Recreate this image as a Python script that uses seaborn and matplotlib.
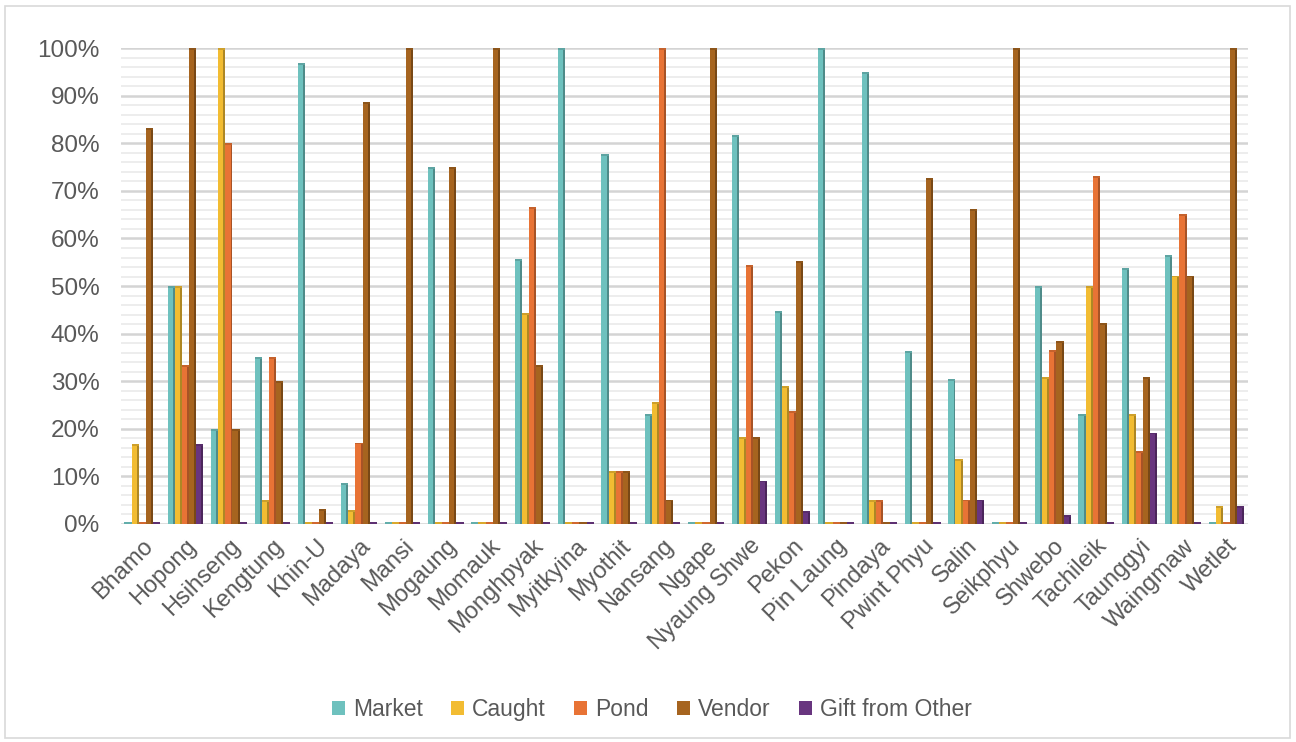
import numpy as np
import pandas as pd
import seaborn as sns
import matplotlib.pyplot as plt
from matplotlib.patches import Rectangle
from matplotlib.colors import to_rgb
from matplotlib.ticker import FixedLocator, PercentFormatter

# Source of fish by township (share of households, %)
locations = ["Bhamo", "Hopong", "Hsihseng", "Kengtung", "Khin-U", "Madaya", "Mansi",
             "Mogaung", "Momauk", "Monghpyak", "Myitkyina", "Myothit", "Nansang",
             "Ngape", "Nyaung Shwe", "Pekon", "Pin Laung", "Pindaya", "Pwint Phyu",
             "Salin", "Seikphyu", "Shwebo", "Tachileik", "Taunggyi", "Waingmaw", "Wetlet"]
market = [0, 50, 20, 35, 96.9, 8.6, 0, 75, 0, 55.6, 100, 77.8, 23.1, 0, 81.8, 44.7,
          100, 95, 36.4, 30.5, 0, 50, 23.1, 53.8, 56.5, 0]
caught = [16.7, 50, 100, 5, 0, 2.9, 0, 0, 0, 44.4, 0, 11.1, 25.6, 0, 18.2, 28.9,
          0, 5, 0, 13.6, 0, 30.8, 50, 23.1, 52.2, 3.8]
pond = [0, 33.3, 80, 35, 0, 17.1, 0, 0, 0, 66.7, 0, 11.1, 100, 0, 54.5, 23.7,
        0, 5, 0, 5.1, 0, 36.5, 73.1, 15.4, 65.2, 0]
vendor = [83.3, 100, 20, 30, 3.1, 88.6, 100, 75, 100, 33.3, 0, 11.1, 5.1, 100, 18.2, 55.3,
          0, 0, 72.7, 66.1, 100, 38.5, 42.3, 30.8, 52.2, 100]
gift = [0, 16.7, 0, 0, 0, 0, 0, 0, 0, 0, 0, 0, 0, 0, 9.1, 2.6,
        0, 0, 0, 5.1, 0, 1.9, 0, 19.2, 0, 3.8]

sources = ["Market", "Caught", "Pond", "Vendor", "Gift from Other"]
colors = ["#6EC1BE", "#F2BC32", "#E87335", "#A6641F", "#68357F"]

wide = pd.DataFrame({"Location": locations, "Market": market, "Caught": caught,
                     "Pond": pond, "Vendor": vendor, "Gift from Other": gift})
long = wide.melt(id_vars="Location", var_name="Source", value_name="Share")
long["Share"] = long["Share"] / 100.0

sns.set_theme(style="white")
plt.rcParams["font.family"] = ["Liberation Sans", "DejaVu Sans"]
text_color = "#595959"

fig = plt.figure(figsize=(12.96, 7.42), dpi=100)
ax = fig.add_axes([0.093, 0.294, 0.870, 0.641])

sns.barplot(data=long, x="Location", y="Share", hue="Source", hue_order=sources,
            order=locations, palette=colors, width=0.82, saturation=1,
            linewidth=0, ax=ax, zorder=3)

# shaded side face and top cap on each bar for a bevelled look
for bar in list(ax.patches):
    h = bar.get_height()
    if not np.isfinite(h):
        continue
    fc = np.array(to_rgb(bar.get_facecolor()))
    if h <= 0:
        # flat floor sliver for empty categories
        ax.add_patch(Rectangle((bar.get_x(), 0), bar.get_width(), 0.003,
                               facecolor=fc * 0.9, edgecolor="none", zorder=3.4))
        continue
    ax.add_patch(Rectangle((bar.get_x() + bar.get_width() * 0.72, 0),
                           bar.get_width() * 0.28, h,
                           facecolor=fc * 0.72, edgecolor="none", zorder=3.5))
    ax.add_patch(Rectangle((bar.get_x(), h - 0.004), bar.get_width(), 0.004,
                           facecolor=fc * 0.85, edgecolor="none", zorder=3.6))

ax.set_xlim(-0.5, len(locations) - 0.5)
ax.set_ylim(0, 1.0)
ax.yaxis.set_major_locator(FixedLocator(np.arange(0, 1.01, 0.1)))
ax.yaxis.set_minor_locator(FixedLocator(np.arange(0, 1.01, 0.02)))
ax.yaxis.set_major_formatter(PercentFormatter(1.0, decimals=0))
ax.grid(axis="y", which="major", color="#D4D4D4", linewidth=1.8, zorder=0)
ax.grid(axis="y", which="minor", color="#EDEDED", linewidth=1.4, zorder=0)
ax.grid(axis="x", visible=False)
for s in ax.spines.values():
    s.set_visible(False)

ax.set_xlabel("")
ax.set_ylabel("")
ax.tick_params(axis="y", which="both", length=0, pad=15, labelsize=17.5, labelcolor=text_color)
ax.tick_params(axis="x", length=0, pad=8, labelsize=17, labelcolor=text_color)
for lbl in ax.get_xticklabels():
    lbl.set_rotation(45)
    lbl.set_ha("right")
    lbl.set_va("top")
    lbl.set_rotation_mode("anchor")

handles, labels = ax.get_legend_handles_labels()
if ax.get_legend() is not None:
    ax.get_legend().remove()
fig.legend(handles, labels, loc="center", bbox_to_anchor=(0.503, 0.044), ncol=5,
           frameon=False, fontsize=16.5, handlelength=0.55, handleheight=0.55,
           handletextpad=0.35, columnspacing=1.25, labelcolor=text_color)

fig.patches.append(Rectangle((0.004, 0.006), 0.991, 0.986, transform=fig.transFigure,
                             fill=False, edgecolor="#D9D9D9", linewidth=1.2))

fig.savefig("out.png", dpi=100, facecolor="white")
